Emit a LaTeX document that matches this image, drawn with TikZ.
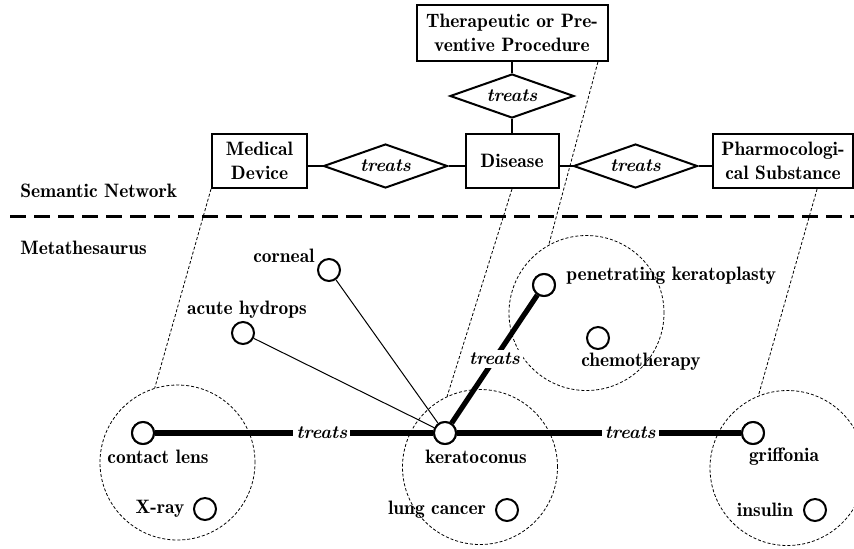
\documentclass[tikz,border=0pt]{standalone}
\usepackage{fontspec}
\usetikzlibrary{shapes.geometric,calc}
\begin{document}
\begin{tikzpicture}[x=0.5pt,y=-0.5pt,
  bfont/.style={font=\fontsize{9.7}{12}\fontseries{b}\selectfont},
  ifont/.style={font=\fontsize{9.2}{12}\bfseries\itshape\selectfont},
  txt/.style={bfont, inner sep=0pt},
  ebox/.style={draw, line width=1pt, align=center, bfont, inner sep=0pt},
  rel/.style={draw, diamond, line width=1pt, aspect=2.8, minimum width=62pt, minimum height=22pt, inner sep=0pt, ifont},
  ent/.style={circle, draw, fill=white, line width=1pt, minimum size=11pt, inner sep=0pt},
  clus/.style={circle, draw, dash pattern=on 1.5pt off 1pt, line width=0.4pt, minimum size=77.5pt, inner sep=0pt},
  link/.style={dash pattern=on 1.5pt off 1pt, line width=0.4pt},
  strong/.style={line width=2.6pt},
  weak/.style={line width=0.5pt},
  tlab/.style={fill=white, inner sep=1.5pt, ifont}
]
\useasboundingbox (0,0) rectangle (854,548);

% Semantic network
\node[ebox, minimum width=95.5pt, minimum height=28pt] (tp) at (512,33) {Therapeutic or Pre-\\ventive Procedure};
\node[rel] (d1) at (512,96) {treats};
\node[ebox, minimum width=46.5pt, minimum height=27pt] (dis) at (512,161) {Disease};
\node[ebox, minimum width=47.5pt, minimum height=27pt] (md) at (259.5,161) {Medical\\Device};
\node[rel] (ld) at (385.5,166) {treats};
\node[rel] (rd) at (635.5,166) {treats};
\node[ebox, minimum width=70pt, minimum height=27pt] (ps) at (783,161) {Pharmocologi-\\cal Substance};

\draw[line width=1pt] (tp.south) -- (d1.north);
\draw[line width=1pt] (d1.south) -- (dis.north);
\draw[line width=1pt] (ld.west) -- (ld.west -| md.east);
\draw[line width=1pt] (ld.east) -- (ld.east -| dis.west);
\draw[line width=1pt] (rd.west) -- (rd.west -| dis.east);
\draw[line width=1pt] (rd.east) -- (rd.east -| ps.west);

\node[txt, anchor=west] (sn) at (20,191) {Semantic Network};
\node[txt, anchor=west] (mt) at (20,248) {Metathesaurus};
\coordinate (dl) at (10,216.5);
\coordinate (dr) at (854,216.5);
\draw[line width=1.4pt, dash pattern=on 8pt off 4pt] (dl) -- (dr);

% Clusters
\node[clus] (c1) at (177.5,462.5) {};
\node[clus] (c2) at (480,467) {};
\node[clus] (c3) at (586.5,313) {};
\node[clus] (c4) at (787.5,468) {};

\draw[link] (md.south west) -- (c1.107);
\draw[link] (dis.south) -- (c2.115);
\draw[link] ($(tp.south west)!0.945!(tp.south east)$) -- (c3.119.5);
\draw[link] ($(ps.south west)!0.74!(ps.south east)$) -- (c4.112);

% Concepts
\node[ent] (co) at (329,270) {};
\node[ent] (ah) at (243,333) {};
\node[ent] (pk) at (544,285) {};
\node[ent] (ch) at (598,338) {};
\node[ent] (cl) at (143,433) {};
\node[ent] (xr) at (205,509) {};
\node[ent] (kc) at (445,433) {};
\node[ent] (lc) at (507,510) {};
\node[ent] (gr) at (753,433) {};
\node[ent] (in) at (815,510) {};

\node[txt, anchor=east] (lco) at (315,256) {corneal};
\node[txt] (lah) at (247,310) {acute hydrops};
\node[txt, anchor=west] (lpk) at (566,276) {penetrating keratoplasty};
\node[txt] (lch) at (641,362) {chemotherapy};
\node[txt] (lcl) at (158,457) {contact lens};
\node[txt] (lxr) at (160,509) {X-ray};
\node[txt] (lkc) at (476,457) {keratoconus};
\node[txt] (llc) at (437,510) {lung cancer};
\node[txt] (lgr) at (784,457) {griffonia};
\node[txt] (lin) at (765,510) {insulin};

% Relations
\draw[weak] (ah) -- (kc);
\draw[weak] (co) -- (kc);
\draw[strong] (kc) -- node[tlab, pos=0.4] (t1) {treats} (cl);
\draw[strong] (kc) -- node[tlab, pos=0.61] (t2) {treats} (gr);
\draw[strong] (kc) -- node[tlab, pos=0.5] (t3) {treats} (pk);

\node[ent] at (kc) {};
\node[ent] at (cl) {};
\node[ent] at (gr) {};
\node[ent] at (pk) {};
\end{tikzpicture}
\end{document}
